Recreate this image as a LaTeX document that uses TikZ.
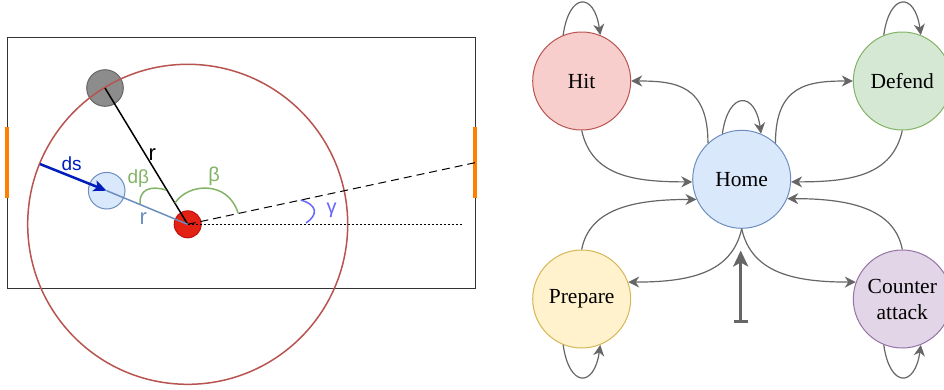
\documentclass[tikz,border=0pt]{standalone}
\usepackage{fontspec}
\setmainfont{Liberation Serif}
\setsansfont{Liberation Sans}
\usetikzlibrary{arrows.meta}
\definecolor{edgec}{HTML}{666666}
\definecolor{hitf}{HTML}{F8CECC}\definecolor{hitd}{HTML}{B85450}
\definecolor{deff}{HTML}{D5E8D4}\definecolor{defd}{HTML}{82B366}
\definecolor{homef}{HTML}{DAE8FC}\definecolor{homed}{HTML}{6C8EBF}
\definecolor{prepf}{HTML}{FFF2CC}\definecolor{prepd}{HTML}{D6B656}
\definecolor{caf}{HTML}{E1D5E7}\definecolor{cad}{HTML}{9673A6}
\definecolor{orangebar}{HTML}{FF8000}
\definecolor{dsblue}{HTML}{001DBC}
\definecolor{gammac}{HTML}{6666FF}
\definecolor{ballred}{HTML}{E42213}\definecolor{ballredd}{HTML}{C01010}
\begin{document}
\begin{tikzpicture}[x=1pt,y=-1pt,
  state/.style={circle, draw, line width=1pt, minimum size=98pt, inner sep=0pt,
    font=\fontsize{21.5}{26}\selectfont, align=center},
  edge/.style={draw=edgec, line width=1.2pt, -{Stealth[length=11pt,width=11pt,inset=3.5pt]}},
  ball/.style={circle, line width=1pt, inner sep=0pt},
  lbl/.style={inner sep=0pt, font=\sffamily\fontsize{19}{21}\selectfont},
  rlbl/.style={inner sep=0pt, font=\sffamily\fontsize{22}{24}\selectfont},
  greenarc/.style={draw=defd, line width=1.5pt},
]
\useasboundingbox (0,0) rectangle (944,389);

% ---------------- left: field ----------------
\draw[draw=black!80, line width=1pt] (7,37) rectangle (475,288);
\draw[orangebar, line width=4pt] (7,127) -- (7,198);
\draw[orangebar, line width=4pt] (475,127) -- (475,198);

\node[ball, fill=black!45, draw=black!60, minimum size=36.6pt] (opp) at (105,88) {};
\node[ball, fill=homef, draw=homed, minimum size=36.6pt] (mate) at (106.7,190.7) {};
\node[ball, fill=ballred, draw=ballredd, minimum size=27pt] (puck) at (187.7,224.3) {};

\draw[draw=hitd, line width=1.5pt] (puck.center) circle[radius=160pt];

\coordinate (dashend) at (475,162.7);
\coordinate (dotend) at (463,224.3);
\coordinate (dsstart) at (40,164);
\draw[black, line width=1pt, dash pattern=on 8pt off 5pt] (puck.center) -- (dashend);
\draw[black, line width=1pt, dash pattern=on 2pt off 2pt] (puck.center) -- (dotend);
\draw[black, line width=1.5pt] (opp.center) -- (puck.center);
\draw[homed, line width=1.5pt] (mate.center) -- (puck.center);
\draw[dsblue, line width=2.5pt, -{Stealth[length=13pt,width=11pt,inset=3pt]}] (dsstart) -- (mate.center);

\draw[greenarc] (140,204) .. controls (139,190) and (150,185) .. (166,190);
\draw[greenarc] (175,203) .. controls (188,183) and (228,180) .. (238,213);
\draw[gammac, line width=1.5pt] (300.7,200) .. controls (318,205) and (318,215) .. (306,223);

\node[lbl, text=dsblue] (lds) at (71.7,164) {ds};
\node[rlbl, text=black] (lr1) at (152.3,154.3) {r};
\node[rlbl, text=homed] (lr2) at (143.3,218.3) {r};
\node[lbl, text=defd] (ldb) at (138.3,178.3) {dβ};
\node[lbl, text=defd, font=\sffamily\fontsize{20}{22}\selectfont] (lb) at (214,176.7) {β};
\node[lbl, text=gammac, font=\sffamily\fontsize{20}{22}\selectfont] (lg) at (331.7,210.7) {γ};

% ---------------- right: state machine ----------------
\node[state, fill=hitf, draw=hitd] (hit) at (581.7,81) {Hit};
\node[state, fill=deff, draw=defd] (defend) at (902.3,81) {Defend};
\node[state, fill=homef, draw=homed] (home) at (741.7,179.3) {Home};
\node[state, fill=prepf, draw=prepd] (prep) at (581.7,299) {Prepare};
\node[state, fill=caf, draw=cad] (ca) at (902.3,299) {Counter\\attack};

% self loops
\draw[edge] (hit.112) .. controls +(6,-43) and +(-6,-43) .. (hit.68);
\draw[edge] (defend.112) .. controls +(6,-43) and +(-6,-43) .. (defend.68);
\draw[edge] (home.113) .. controls +(6,-43) and +(-6,-43) .. (home.67);
\draw[edge] (prep.-112) .. controls +(6,43) and +(-6,43) .. (prep.-68);
\draw[edge] (ca.-112) .. controls +(6,43) and +(-6,43) .. (ca.-68);

% home -> top states
\draw[edge] (home.133) .. controls +(0,-58) and +(45,0) .. (hit.east);
\draw[edge] (home.47) .. controls +(0,-58) and +(-45,0) .. (defend.west);
% top states -> home
\draw[edge] (hit.south) .. controls +(10,45) and +(-60,0) .. (home.183);
\draw[edge] (defend.south) .. controls +(-10,45) and +(60,0) .. (home.-3);
% bottom states -> home
\draw[edge] (prep.north) .. controls +(8,-42) and +(-60,0) .. (home.204);
\draw[edge] (ca.north) .. controls +(-8,-42) and +(60,0) .. (home.-23);
% home -> bottom states
\draw[edge] (home.south) .. controls +(-10,45) and +(60,0) .. (prep.20);
\draw[edge] (home.south) .. controls +(10,45) and +(-60,0) .. (ca.160);

% initial arrow
\coordinate (initstart) at (740.7,322.7);
\coordinate (initend) at (740.7,250.5);
\draw[draw=edgec, line width=3pt, {Bar[width=14pt,line width=2.5pt]}-{Stealth[length=16pt,width=15pt,inset=4pt]}] (initstart) -- (initend);
\end{tikzpicture}
\end{document}
